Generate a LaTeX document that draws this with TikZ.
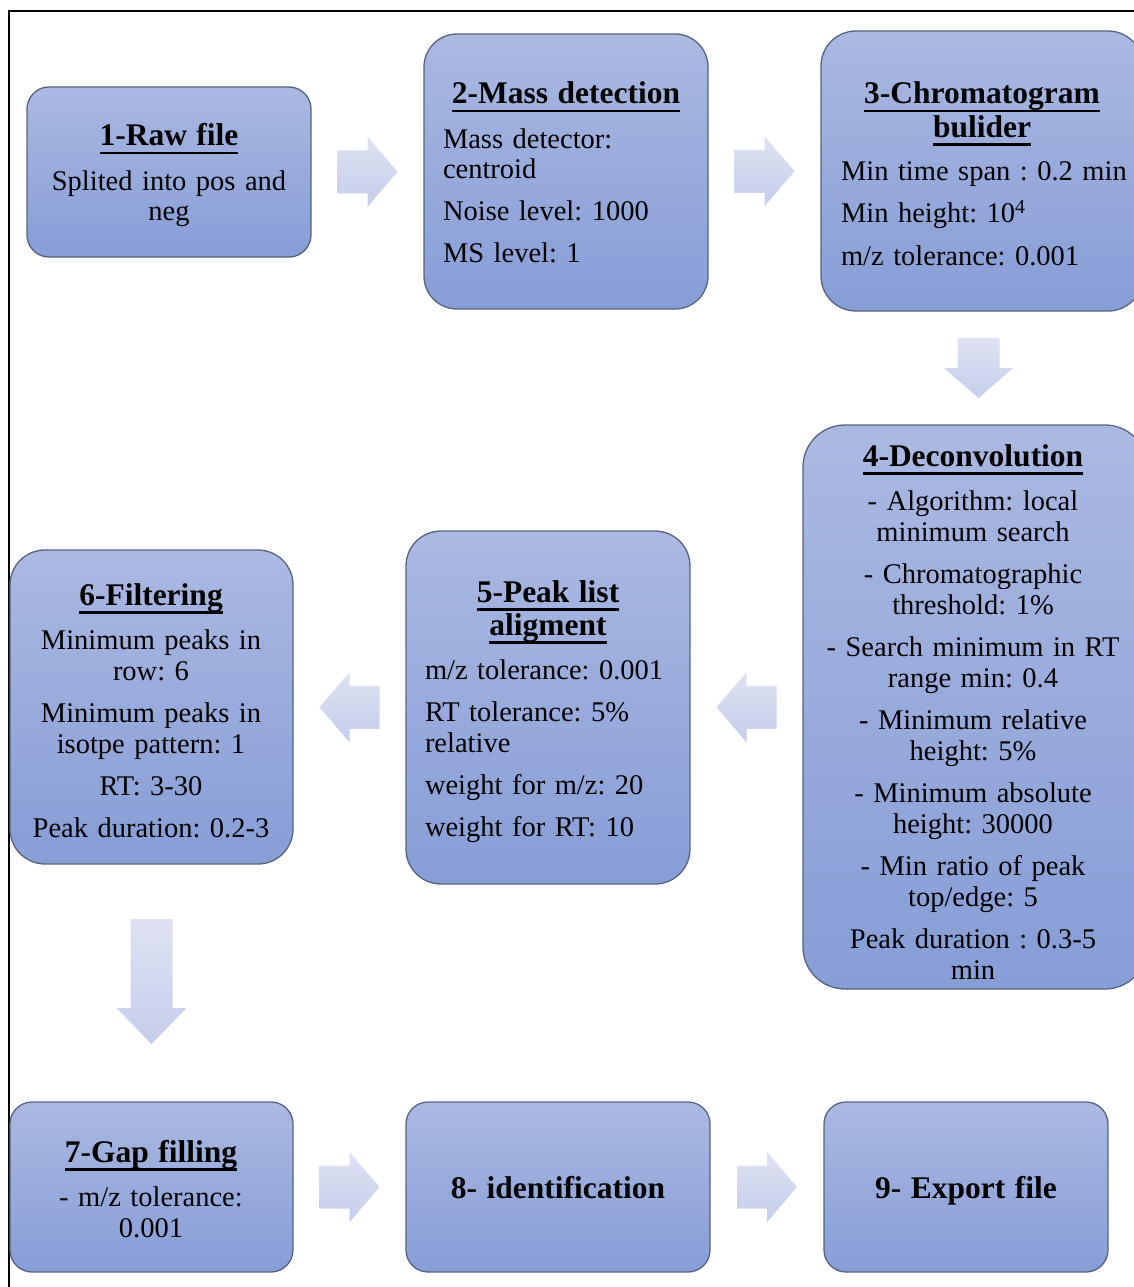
\documentclass[tikz,border=0pt]{standalone}
\usepackage{fontspec}
\setmainfont{Liberation Serif}
\usetikzlibrary{calc}
\definecolor{boxtop}{RGB}{171,185,226}
\definecolor{boxbot}{RGB}{134,157,214}
\definecolor{boxline}{RGB}{88,99,128}
\definecolor{arrtop}{RGB}{222,226,242}
\definecolor{arrbot}{RGB}{197,205,235}
\newcommand\ulin[1]{\leavevmode\setbox0=\hbox{#1}\rlap{\rule[-8.5pt]{\wd0}{2.5pt}}\box0}
\newcommand\ttl[1]{{\centering\fontsize{31.5}{33}\selectfont\bfseries #1\par}\vspace{2pt}}
\newcommand\arrowRight[1]{\shade[arrowfill, shift={(#1)}] (-30,-21.5) -- (0,-21.5) -- (0,-35) -- (30,0) -- (0,35) -- (0,21.5) -- (-30,21.5) -- cycle;}
\newcommand\arrowLeft[1]{\shade[arrowfill, shift={(#1)}] (30,-21.5) -- (0,-21.5) -- (0,-35) -- (-30,0) -- (0,35) -- (0,21.5) -- (30,21.5) -- cycle;}
\tikzset{
 box/.style={draw=boxline, line width=1.3pt, top color=boxtop, bottom color=boxbot, rectangle, inner sep=0pt},
 txt/.style={inner sep=0pt, anchor=base, font=\fontsize{28.5}{31}\selectfont\frenchspacing},
 arrowfill/.style={top color=arrtop, bottom color=arrbot, draw=none},
 frame/.style={line width=2pt, black}
}
\begin{document}
\begin{tikzpicture}[x=1pt,y=-1pt]
\useasboundingbox (0,0) rectangle (1133,1287);
\fill[white] (0,0) rectangle (1133,1287);
% frame
\coordinate (fTL) at (9,11);
\coordinate (fTR) at (1145,11);
\coordinate (fBL) at (9,1300);
\draw[frame] (fTR) -- (fTL) -- (fBL);

% boxes
\node[box, minimum width=284pt, minimum height=170pt, rounded corners=22pt] (b1) at (169,172) {};
\node[box, minimum width=284pt, minimum height=275pt, rounded corners=33pt] (b2) at (566,171.5) {};
\node[box, minimum width=322pt, minimum height=280pt, rounded corners=35pt] (b3) at (982,171) {};
\node[box, minimum width=344pt, minimum height=564pt, rounded corners=42pt] (b4) at (975,707) {};
\node[box, minimum width=284pt, minimum height=353pt, rounded corners=35pt] (b5) at (548,707.5) {};
\node[box, minimum width=283pt, minimum height=314pt, rounded corners=35pt] (b6) at (151.5,707) {};
\node[box, minimum width=283pt, minimum height=170pt, rounded corners=22pt] (b7) at (151.5,1187) {};
\node[box, minimum width=304pt, minimum height=170pt, rounded corners=22pt] (b8) at (558,1187) {};
\node[box, minimum width=284pt, minimum height=170pt, rounded corners=22pt] (b9) at (966,1187) {};

% texts
\node[txt, text width=270pt] (t1) at (169,146) {\setlength{\parskip}{11pt}%
\ttl{\ulin{1-Raw file}}
{\centering Splited into pos and\\neg\par}};

\node[txt, text width=246pt] (t2) at (566,104) {\setlength{\parskip}{11pt}%
\ttl{\ulin{2-Mass detection}}
{\raggedright\mbox{Mass detector:}\\\mbox{centroid}\par}
{\raggedright\mbox{Noise level: 1000}\par}
{\raggedright\mbox{MS level: 1}\par}};

\node[txt, text width=282pt] (t3) at (982,104) {\setlength{\parskip}{11pt}%
\ttl{\ulin{3-Chromatogram}\\\ulin{bulider}}
{\raggedright\mbox{Min time span : 0.2 min}\par}
{\raggedright\mbox{Min height: 10\textsuperscript{4}}\par}
{\raggedright\mbox{m/z tolerance: 0.001}\par}};

\node[txt, text width=330pt] (t4) at (973,466) {\setlength{\parskip}{11pt}%
\ttl{\ulin{4-Deconvolution}}
{\centering - Algorithm: local\\minimum search\par}
{\centering - Chromatographic\\threshold: 1\%\par}
{\centering - Search minimum in RT\\range min: 0.4\par}
{\centering - Minimum relative\\height: 5\%\par}
{\centering - Minimum absolute\\height: 30000\par}
{\centering - Min ratio of peak\\top/edge: 5\par}
{\centering Peak duration : 0.3-5\\min\par}};

\node[txt, text width=246pt] (t5) at (548,602) {\setlength{\parskip}{11pt}%
\ttl{\ulin{5-Peak list}\\\ulin{aligment}}
{\raggedright\mbox{m/z tolerance: 0.001}\par}
{\raggedright\mbox{RT tolerance: 5\%}\\\mbox{relative}\par}
{\raggedright\mbox{weight for m/z: 20}\par}
{\raggedright\mbox{weight for RT: 10}\par}};

\node[txt, text width=280pt] (t6) at (151,605) {\setlength{\parskip}{11pt}%
\ttl{\ulin{6-Filtering}}
{\centering Minimum peaks in\\row: 6\par}
{\centering Minimum peaks in\\isotpe pattern: 1\par}
{\centering RT: 3-30\par}
{\centering Peak duration: 0.2-3\par}};

\node[txt, text width=270pt] (t7) at (151,1162) {\setlength{\parskip}{11pt}%
\ttl{\ulin{7-Gap filling}}
{\centering - m/z tolerance:\\0.001\par}};

\node[txt, text width=290pt] (t8) at (558,1198) {\ttl{8- identification}};
\node[txt, text width=270pt] (t9) at (966,1198) {\ttl{9- Export file}};

% block arrows
\coordinate (a12) at ($(b1.east)!0.5!(b2.west)$);
\coordinate (a23) at ($(b2.east)!0.5!(b3.west)$);
\coordinate (a34) at ($(b3.south)!0.5!(b4.north)$);
\coordinate (a45) at ($(b4.west)!0.5!(b5.east)$);
\coordinate (a56) at ($(b5.west)!0.5!(b6.east)$);
\coordinate (a67) at ($(b6.south)!0.5!(b7.north)$);
\coordinate (a78) at ($(b7.east)!0.5!(b8.west)$);
\coordinate (a89) at ($(b8.east)!0.5!(b9.west)$);

\arrowRight{a12}
\arrowRight{a23}
\shade[arrowfill, shift={(a34)}] (-21,-30) -- (21,-30) -- (21,0) -- (34.5,0) -- (0,30) -- (-34.5,0) -- (-21,0) -- cycle;
\arrowLeft{a45}
\arrowLeft{a56}
\shade[arrowfill, shift={(a67)}] (-21,-64) -- (21,-64) -- (21,25) -- (35,25) -- (0,61) -- (-35,25) -- (-21,25) -- cycle;
\arrowRight{a78}
\arrowRight{a89}
\end{tikzpicture}
\end{document}
